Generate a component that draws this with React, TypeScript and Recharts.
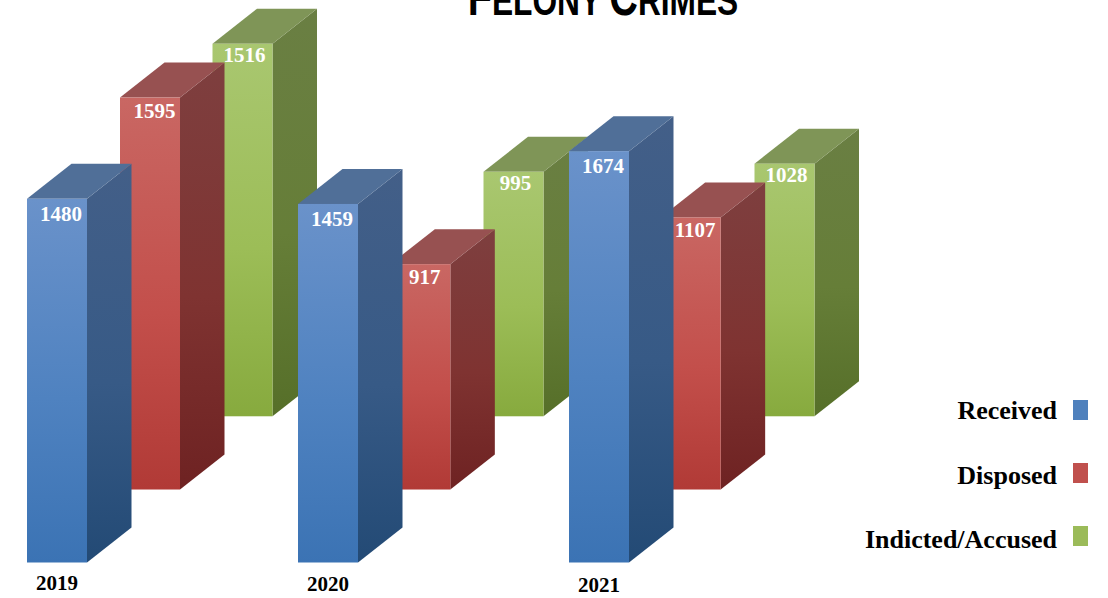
import React from "react";
import { BarChart, Bar, XAxis, YAxis, LabelList } from "recharts";

const years = ["2019", "2020", "2021"];
const received = [1480, 1459, 1674];
const disposed = [1595, 917, 1107];
const indicted = [1516, 995, 1028];
const legendNames = ["Received", "Disposed", "Indicted/Accused"];

const data = years.map((year, i) => ({
  year,
  received: received[i],
  disposed: disposed[i],
  indicted: indicted[i],
}));

const W = 1108;
const H = 598;
const SERIF = "'Liberation Serif', serif";
const DX = 44.5;
const DY = 35;

const palette: Record<string, any> = {
  blue: {
    front: ["#6A92CA", "#4F82C0", "#3B73B4"],
    side: ["#435F88", "#375A86", "#234A75"],
    top: "#506F98",
    key: "#4F81BD",
  },
  red: {
    front: ["#C96763", "#C34F4B", "#B13A36"],
    side: ["#7E3F3F", "#7F3331", "#6E2222"],
    top: "#975151",
    key: "#C0504D",
  },
  green: {
    front: ["#A9C770", "#9CBD57", "#87AA3E"],
    side: ["#6A7F43", "#667E38", "#566F29"],
    top: "#7F9557",
    key: "#9BBB59",
  },
};

const Box = (name: string) => (props: any) => {
  const { x, y, width, height } = props;
  const r = x + width;
  const b = y + height;
  return (
    <g>
      <polygon
        points={`${r},${y} ${r + DX},${y - DY} ${r + DX},${b - DY} ${r},${b}`}
        fill={`url(#side-${name})`}
      />
      <polygon
        points={`${x},${y} ${x + DX},${y - DY} ${r + DX},${y - DY} ${r},${y}`}
        fill={palette[name].top}
      />
      <rect x={x} y={y} width={width} height={height} fill={`url(#front-${name})`} />
    </g>
  );
};

const valueLabel = (dx: number, dy: number) => (props: any) => {
  const { x, y, width, value } = props;
  return (
    <text
      x={x + width / 2 + dx}
      y={y + dy}
      textAnchor="middle"
      fill="#FFFFFF"
      fontFamily={SERIF}
      fontWeight="bold"
      fontSize={21}
    >
      {value}
    </text>
  );
};

const YearTick = (props: any) => {
  const { x, y, payload, index } = props;
  return (
    <text
      x={x + 0.5}
      y={y + 21 + index}
      textAnchor="middle"
      fill="#000000"
      fontFamily={SERIF}
      fontWeight="bold"
      fontSize={21}
    >
      {payload.value}
    </text>
  );
};

const Grad = ({ id, stops }: { id: string; stops: string[] }) => (
  <linearGradient id={id} x1="0" y1="0" x2="0" y2="1">
    <stop offset="0" stopColor={stops[0]} />
    <stop offset="0.55" stopColor={stops[1]} />
    <stop offset="1" stopColor={stops[2]} />
  </linearGradient>
);

const legendRows = [
  { color: palette.blue.key, baseline: 419, rect: 400 },
  { color: palette.red.key, baseline: 484, rect: 463 },
  { color: palette.green.key, baseline: 548, rect: 526 },
];

export default function App() {
  return (
    <div style={{ position: "absolute", left: 0, top: 0, width: W, height: H, background: "#fff", overflow: "hidden" }}>
      <BarChart width={W} height={H} data={data} barSize={60} margin={{ top: 0, right: 0, bottom: 0, left: 0 }}>
        <defs>
          {Object.keys(palette).map((n) => (
            <React.Fragment key={n}>
              <Grad id={`front-${n}`} stops={palette[n].front} />
              <Grad id={`side-${n}`} stops={palette[n].side} />
            </React.Fragment>
          ))}
        </defs>

        <XAxis xAxisId="b" dataKey="year" height={35.5} axisLine={false} tickLine={false} tick={<YearTick />} padding={{ left: -79, right: 374 }} interval={0} tickMargin={0} />
        <XAxis xAxisId="r" dataKey="year" hide padding={{ left: 15, right: 282 }} />
        <XAxis xAxisId="g" dataKey="year" hide padding={{ left: 106.5, right: 188.5 }} />

        <YAxis yAxisId="b" hide type="number" domain={[0, 2289]} />
        <YAxis yAxisId="r" hide type="number" domain={[-297, 1992]} />
        <YAxis yAxisId="g" hide type="number" domain={[-595, 1694]} />

        <Bar xAxisId="g" yAxisId="g" dataKey="indicted" isAnimationActive={false} shape={Box("green")}>
          <LabelList dataKey="indicted" content={valueLabel(2, 18)} />
        </Bar>
        <Bar xAxisId="r" yAxisId="r" dataKey="disposed" isAnimationActive={false} shape={Box("red")}>
          <LabelList dataKey="disposed" content={valueLabel(4.5, 20)} />
        </Bar>
        <Bar xAxisId="b" yAxisId="b" dataKey="received" isAnimationActive={false} shape={Box("blue")}>
          <LabelList dataKey="received" content={valueLabel(4, 22)} />
        </Bar>

        <text
          transform="translate(603,15) scale(1,1.35)"
          textAnchor="middle"
          fill="#000000"
          fontFamily="'Liberation Sans', sans-serif"
          fontWeight="bold"
          fontSize={31.7}
        >
          <tspan fontSize={39.6}>F</tspan>ELONY <tspan fontSize={39.6}>C</tspan>RIMES
        </text>

        {legendNames.map((name, i) => (
          <g key={name}>
            <text x={1057} y={legendRows[i].baseline} textAnchor="end" fill="#000000" fontFamily={SERIF} fontWeight="bold" fontSize={26}>
              {name}
            </text>
            <rect x={1073} y={legendRows[i].rect} width={15} height={20} fill={legendRows[i].color} />
          </g>
        ))}
      </BarChart>
    </div>
  );
}
